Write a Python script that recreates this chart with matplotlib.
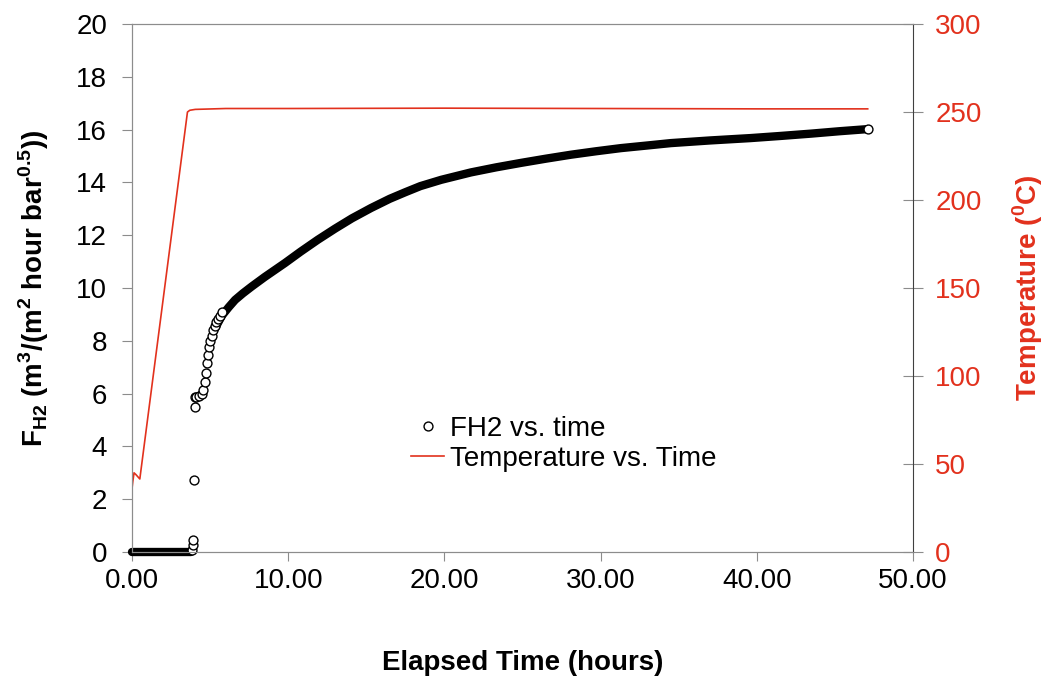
import matplotlib
matplotlib.use("Agg")
import matplotlib.pyplot as plt
from matplotlib.lines import Line2D

plt.rcParams['font.family'] = ['Liberation Sans', 'DejaVu Sans']
plt.rcParams['mathtext.fontset'] = 'custom'
plt.rcParams['mathtext.rm'] = 'Liberation Sans'
plt.rcParams['mathtext.bf'] = 'Liberation Sans:bold'

RED = '#E2311D'
GRAY = '#8C8C8C'

# ---- data ----
# FH2 baseline before breakthrough (dense points -> solid band at zero)
time_zero = [0.0, 0.5, 1.0, 1.5, 2.0, 2.5, 3.0, 3.5, 3.8]
fh2_zero = [0.0, 0.0, 0.0, 0.0, 0.0, 0.0, 0.0, 0.0, 0.0]
# FH2 individual (sparse) points: jump and early rise
time_sparse = [3.85, 3.88, 3.9, 3.95,
               4.02, 4.05, 4.1, 4.3, 4.45, 4.57, 4.65, 4.72, 4.8, 4.88, 4.95,
               5.02, 5.1, 5.2, 5.3, 5.4, 5.5, 5.62, 5.75]
fh2_sparse = [0.08, 0.27, 0.45, 2.73,
              5.51, 5.89, 5.88, 5.9, 6.0, 6.14, 6.45, 6.78, 7.16, 7.47, 7.75,
              8.0, 8.2, 8.4, 8.55, 8.7, 8.82, 8.95, 9.08]
# FH2 dense part (points overlap into a solid band)
time_dense = [5.3, 5.75, 6.2, 6.6, 7.1, 7.67, 8.5, 9.8, 10.8, 11.9, 13.0,
              14.08, 15.3, 16.5, 17.5, 18.46, 19.8, 21.7, 23.3, 24.9, 26.5,
              28.1, 29.7, 31.3, 33.0, 34.5, 37.0, 39.6, 41.5, 43.5, 45.3, 47.1]
fh2_dense = [8.45, 8.95, 9.28, 9.55, 9.8, 10.06, 10.42, 10.95, 11.38, 11.83,
             12.25, 12.64, 13.03, 13.38, 13.63, 13.86, 14.1, 14.38, 14.57,
             14.74, 14.9, 15.05, 15.18, 15.3, 15.4, 15.49, 15.59, 15.68,
             15.76, 15.85, 15.94, 16.02]
# Temperature
time_temp = [0.0, 0.05, 0.13, 0.25, 0.5, 3.55, 3.7, 4.05, 6.0, 10.0, 20.0,
             30.0, 40.0, 47.1]
temp_c = [36, 40, 45, 44, 41.5, 250, 251, 251.5, 252, 252, 252.2, 252, 251.8,
          251.8]

x_ticks = [0, 10, 20, 30, 40, 50]
y_ticks = [0, 2, 4, 6, 8, 10, 12, 14, 16, 18, 20]
t_ticks = [0, 50, 100, 150, 200, 250, 300]

MS = 6.4

fig = plt.figure(figsize=(10.51, 6.77), dpi=100)
ax = fig.add_axes([0.1256, 0.1846, 0.7431, 0.7799])
ax2 = ax.twinx()

band = dict(color='black', lw=6.0, solid_capstyle='round',
            solid_joinstyle='round', zorder=2, clip_on=False)
ax.plot(time_zero, fh2_zero, **band)
ax.plot(time_dense, fh2_dense, **band)
mk = dict(linestyle='none', marker='o', ms=MS, mfc='white', mec='black',
          mew=1.0, zorder=3, clip_on=False)
ax.plot(time_sparse, fh2_sparse, **mk)
ax.plot(time_dense[-1:], fh2_dense[-1:], **mk)

ax2.plot(time_temp, temp_c, color=RED, lw=1.2)

ax.set_xlim(0, 50)
ax.set_ylim(0, 20)
ax2.set_ylim(0, 300)
ax.set_xticks(x_ticks)
ax.set_xticklabels([f"{v:.2f}" for v in x_ticks])
ax.set_yticks(y_ticks)
ax2.set_yticks(t_ticks)

for s in ['left', 'bottom', 'top']:
    ax.spines[s].set_color(GRAY)
    ax2.spines[s].set_color(GRAY)
ax2.spines['right'].set_color('#404040')
ax.spines['right'].set_visible(False)

ax.tick_params(axis='x', direction='out', length=6.5, color=GRAY,
               labelsize=20, pad=5)
ax.tick_params(axis='y', direction='out', length=7, color=GRAY,
               labelsize=20, pad=11)
ax2.tick_params(axis='y', direction='inout', length=14, color=GRAY,
                labelsize=20, labelcolor=RED, pad=9)

ax.set_xlabel('Elapsed Time (hours)', fontsize=20, fontweight='bold',
              labelpad=40)
ax.set_ylabel(r'F$_{\mathbf{H2}}$ (m$^{\mathbf{3}}$/(m$^{\mathbf{2}}$ hour bar$^{\mathbf{0.5}}$))',
              fontsize=20, fontweight='bold', labelpad=18)
ax2.set_ylabel(r'Temperature ($^{\mathbf{0}}$C)', fontsize=20,
               fontweight='bold', color=RED, labelpad=21)

handles = [Line2D([], [], linestyle='none', marker='o', ms=MS, mfc='white',
                  mec='black', mew=1.0),
           Line2D([], [], color=RED, lw=1.2)]
fig.legend(handles, ['FH2 vs. time', 'Temperature vs. Time'],
           loc='upper left', bbox_to_anchor=(411 / 1051, 1 - 416 / 677),
           frameon=False, fontsize=20, handlelength=1.2, handletextpad=0.2,
           labelspacing=0.14, borderpad=0, borderaxespad=0)

fig.savefig('out.png', dpi=100)
